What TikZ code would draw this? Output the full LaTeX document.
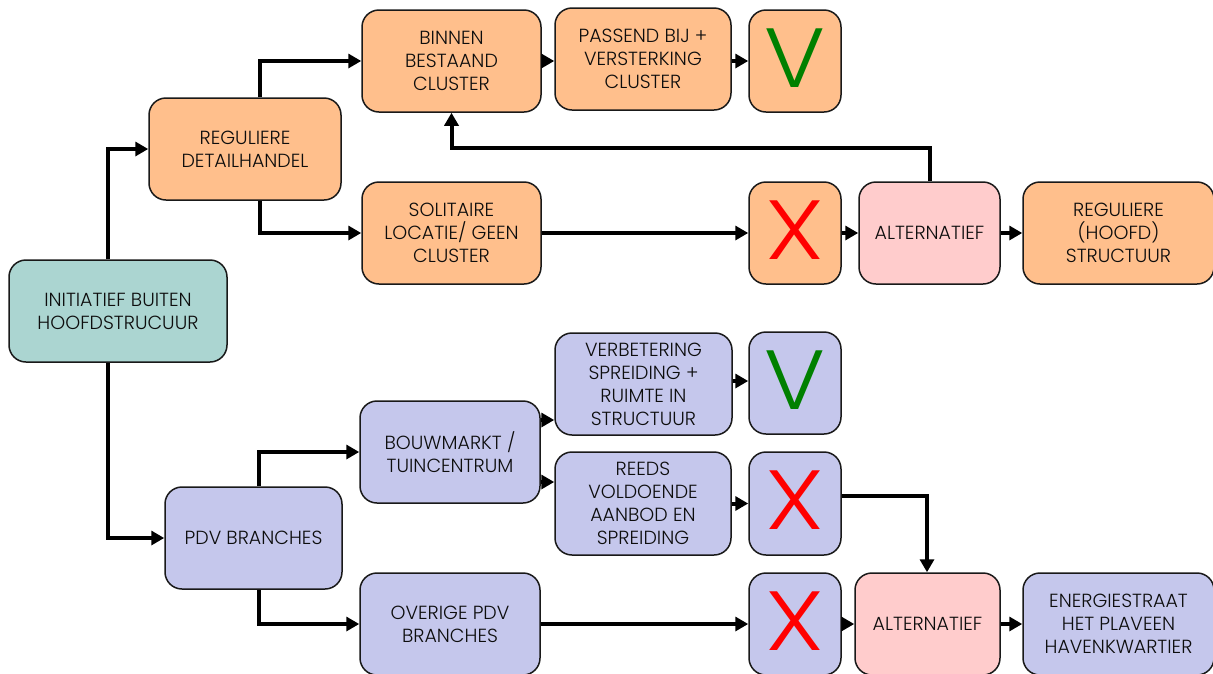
\documentclass[tikz,border=0pt]{standalone}
\usepackage{fontspec}
\setmainfont{Poppins Light}
\usetikzlibrary{arrows.meta}
\definecolor{orangefill}{HTML}{FFBF8C}
\definecolor{bluefill}{HTML}{C5C7EC}
\definecolor{pinkfill}{HTML}{FFCCCC}
\definecolor{tealfill}{HTML}{ABD5D1}
\definecolor{okgreen}{HTML}{008000}
\tikzset{
  x=1pt,y=-1pt,
  boxbase/.style={draw=black!90,line width=1.5pt,rounded corners=17pt,inner sep=0pt,align=center,
    font=\fontsize{19}{23}\selectfont,text=black!95},
  orangebox/.style={boxbase,fill=orangefill},
  bluebox/.style={boxbase,fill=bluefill},
  pinkbox/.style={boxbase,fill=pinkfill},
  tealbox/.style={boxbase,fill=tealfill},
  conn/.style={line width=4pt,-{Triangle[length=13pt,width=14pt]}},
  markv/.style={font=\fontsize{84}{84}\selectfont,text=okgreen,inner sep=0pt,yshift=3pt,xscale=1.1,transform shape},
  markx/.style={font=\fontsize{84}{84}\selectfont,text=red,inner sep=0pt,yshift=3pt,xscale=1.2,transform shape},
}
\newcommand{\bx}[7]{% style,name,x1,y1,x2,y2,text
  \node[#1,minimum width=#5pt-#3pt,minimum height=#6pt-#4pt] (#2) at ({(#3+#5)/2},{(#4+#6)/2}) {#7};}
\begin{document}
\begin{tikzpicture}
\path[use as bounding box] (0,0) rectangle (1213,673);
\bx{tealbox}{a}{9}{260}{227}{362}{INITIATIEF BUITEN\\HOOFDSTRUCUUR}
\bx{orangebox}{b}{149}{98}{341}{200}{REGULIERE\\DETAILHANDEL}
\bx{orangebox}{c}{362}{10}{541}{112}{BINNEN\\BESTAAND\\CLUSTER}
\bx{orangebox}{d}{555}{8}{731}{110}{PASSEND BIJ +\\VERSTERKING\\CLUSTER}
\bx{orangebox}{e}{749}{10}{841}{112}{}
\bx{orangebox}{f}{362}{182}{541}{284}{SOLITAIRE\\LOCATIE/ GEEN\\CLUSTER}
\bx{orangebox}{g}{749}{182}{841}{284}{}
\bx{pinkbox}{h}{859}{182}{1000}{284}{ALTERNATIEF}
\bx{orangebox}{i}{1023}{182}{1214}{284}{REGULIERE\\(HOOFD)\\STRUCTUUR}
\bx{bluebox}{j}{165}{487}{342}{589}{PDV BRANCHES}
\bx{bluebox}{k}{360}{401}{540}{503}{BOUWMARKT /\\TUINCENTRUM}
\bx{bluebox}{l}{555}{333}{732}{435}{VERBETERING\\SPREIDING +\\RUIMTE IN\\STRUCTUUR}
\bx{bluebox}{m}{749}{332}{841}{434}{}
\bx{bluebox}{n}{555}{452}{731}{555}{REEDS\\VOLDOENDE\\AANBOD EN\\SPREIDING}
\bx{bluebox}{o}{749}{452}{841}{555}{}
\bx{bluebox}{p}{360}{573}{540}{675}{OVERIGE PDV\\BRANCHES}
\bx{bluebox}{q}{749}{573}{841}{675}{}
\bx{pinkbox}{r}{855}{573}{1000}{675}{ALTERNATIEF}
\bx{bluebox}{s}{1023}{573}{1214}{675}{ENERGIESTRAAT\\HET PLAVEEN\\HAVENKWARTIER}
\node[markv] (ev) at (e.center) {V};
\node[markx] (gx) at (g.center) {X};
\node[markv] (mv) at (m.center) {V};
\node[markx] (ox) at (o.center) {X};
\node[markx] (qx) at (q.center) {X};
\draw[conn] ([xshift=-10pt]a.north) |- (b.west);
\draw[conn] ([xshift=-10pt]a.south) |- (j.west);
\draw[conn] ([xshift=15pt]b.north) |- (c.west);
\draw[conn] ([xshift=15pt]b.south) |- (f.west);
\draw[conn] (c.east) -- (d.west |- c.east);
\draw[conn] (d.east |- c.east) -- (e.west);
\draw[conn] (f.east) -- (g.west);
\draw[conn] (g.east) -- (h.west);
\draw[conn] (h.east) -- (i.west);
\draw[conn] (h.north) -- ++(0,-33) -| (c.south);
\draw[conn] ([xshift=5pt]j.north) |- (k.west);
\draw[conn] ([xshift=5pt]j.south) |- (p.west);
\draw[conn] ([yshift=32pt]k.east) -- ([yshift=32pt]k.east -| l.west);
\draw[conn] ([yshift=-30pt]k.east) -- ([yshift=-30pt]k.east -| n.west);
\draw[conn] ([yshift=3pt]l.east) -- ([yshift=2pt]m.west);
\draw[conn] (n.east) -- (o.west);
\draw[conn] ([yshift=8pt]o.east) -| ([xshift=-0.5pt]r.north);
\draw[conn] (p.east) -- (q.west);
\draw[conn] (q.east) -- (r.west);
\draw[conn] (r.east) -- (s.west);
\end{tikzpicture}
\end{document}
